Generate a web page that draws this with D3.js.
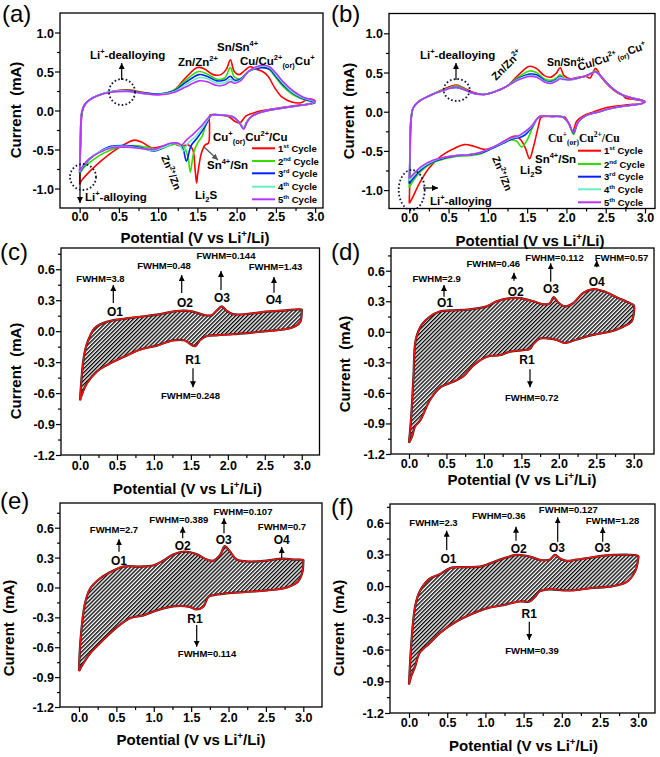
<!DOCTYPE html>
<html><head><meta charset="utf-8">
<script src="https://cdn.jsdelivr.net/npm/d3@7"></script>
<style>body{margin:0;background:#fff} svg text{font-family:"Liberation Sans",Arial,sans-serif;}</style>
</head><body><svg id="c" width="660" height="757"></svg>
<script>
// ---------- DATA ----------
const xTicks = [0.0,0.5,1.0,1.5,2.0,2.5,3.0];
const xMinor = [0.25,0.75,1.25,1.75,2.25,2.75];
const yTicksAB = [-1.0,-0.5,0.0,0.5,1.0];
const yMinorAB = [-0.75,-0.25,0.25,0.75];
const yTicksCF = [-1.2,-0.9,-0.6,-0.3,0.0,0.3,0.6];
const yMinorCF = [-1.05,-0.75,-0.45,-0.15,0.15,0.45,0.75];
const cycleNames = [["1","st"],["2","nd"],["3","rd"],["4","th"],["5","th"]];

// Panel (a): five CV cycles [potential V, current mA]
const a_cycle1 = [[0.0,-0.95],[0.01,-0.55],[0.02,-0.15],[0.05,0.04],[0.12,0.13],[0.25,0.2],[0.4,0.24],[0.6,0.265],[0.8,0.235],[1.0,0.21],[1.2,0.26],[1.35,0.42],[1.5,0.55],[1.58,0.54],[1.7,0.46],[1.8,0.46],[1.87,0.53],[1.92,0.65],[1.97,0.5],[2.03,0.46],[2.1,0.51],[2.17,0.56],[2.25,0.53],[2.33,0.5],[2.4,0.44],[2.48,0.3],[2.58,0.17],[2.7,0.11],[2.82,0.1],[2.92,0.15],[3.0,0.12],
[2.92,0.08],[2.8,0.07],[2.6,0.04],[2.4,0.01],[2.25,-0.02],[2.12,-0.07],[2.04,-0.16],[1.98,-0.14],[1.9,-0.08],[1.78,-0.06],[1.66,-0.06],[1.655,-0.2],[1.64,-0.42],[1.6,-0.44],[1.55,-0.55],[1.5,-0.85],[1.49,-0.93],[1.47,-0.75],[1.44,-0.5],[1.38,-0.44],[1.3,-0.46],[1.2,-0.43],[1.05,-0.46],[0.92,-0.48],[0.8,-0.41],[0.7,-0.38],[0.58,-0.43],[0.42,-0.53],[0.27,-0.65],[0.12,-0.79],[0.03,-0.89],[0.0,-0.95]];
const a_cycle2 = [[0.0,-0.82],[0.01,-0.45],[0.025,-0.05],[0.06,0.07],[0.13,0.14],[0.25,0.2],[0.4,0.24],[0.6,0.26],[0.8,0.23],[1.0,0.21],[1.2,0.26],[1.35,0.39],[1.52,0.5],[1.62,0.47],[1.75,0.4],[1.85,0.42],[1.92,0.55],[1.97,0.43],[2.05,0.41],[2.15,0.5],[2.25,0.54],[2.33,0.56],[2.42,0.52],[2.5,0.42],[2.6,0.3],[2.72,0.2],[2.85,0.14],[3.0,0.1],
[2.9,0.08],[2.7,0.05],[2.5,0.02],[2.32,-0.02],[2.2,-0.07],[2.13,-0.14],[2.09,-0.22],[2.03,-0.15],[1.95,-0.08],[1.8,-0.06],[1.68,-0.06],[1.62,-0.15],[1.56,-0.33],[1.5,-0.42],[1.45,-0.55],[1.41,-0.79],[1.38,-0.6],[1.33,-0.47],[1.25,-0.43],[1.15,-0.45],[1.0,-0.5],[0.85,-0.47],[0.7,-0.45],[0.5,-0.47],[0.3,-0.55],[0.15,-0.65],[0.04,-0.75],[0.0,-0.82]];
const a_cycle3 = [[0.0,-0.8],[0.01,-0.43],[0.025,-0.04],[0.06,0.07],[0.13,0.14],[0.25,0.2],[0.4,0.24],[0.6,0.255],[0.8,0.225],[1.0,0.21],[1.2,0.25],[1.35,0.36],[1.52,0.46],[1.62,0.44],[1.75,0.38],[1.85,0.39],[1.92,0.44],[1.97,0.39],[2.05,0.4],[2.15,0.5],[2.25,0.54],[2.33,0.55],[2.42,0.53],[2.5,0.44],[2.6,0.32],[2.72,0.22],[2.85,0.15],[3.0,0.1],
[2.9,0.08],[2.7,0.05],[2.5,0.02],[2.32,-0.02],[2.2,-0.07],[2.13,-0.15],[2.09,-0.23],[2.03,-0.15],[1.95,-0.08],[1.8,-0.06],[1.68,-0.06],[1.6,-0.2],[1.5,-0.35],[1.42,-0.45],[1.36,-0.65],[1.32,-0.5],[1.27,-0.43],[1.2,-0.42],[1.1,-0.46],[0.95,-0.52],[0.8,-0.48],[0.6,-0.45],[0.4,-0.46],[0.25,-0.53],[0.12,-0.63],[0.04,-0.73],[0.0,-0.8]];
const a_cycle4 = [[0.0,-0.79],[0.01,-0.42],[0.025,-0.03],[0.06,0.07],[0.13,0.14],[0.25,0.2],[0.4,0.24],[0.6,0.25],[0.8,0.22],[1.0,0.205],[1.2,0.24],[1.35,0.33],[1.52,0.42],[1.62,0.41],[1.75,0.35],[1.85,0.36],[1.92,0.4],[1.97,0.37],[2.05,0.39],[2.15,0.5],[2.25,0.55],[2.33,0.57],[2.42,0.55],[2.5,0.46],[2.6,0.34],[2.72,0.23],[2.85,0.16],[3.0,0.11],
[2.9,0.08],[2.7,0.05],[2.5,0.02],[2.32,-0.02],[2.2,-0.07],[2.13,-0.15],[2.09,-0.23],[2.03,-0.15],[1.95,-0.08],[1.8,-0.06],[1.68,-0.06],[1.58,-0.2],[1.48,-0.33],[1.38,-0.42],[1.32,-0.52],[1.28,-0.45],[1.2,-0.42],[1.1,-0.46],[0.95,-0.51],[0.8,-0.49],[0.6,-0.46],[0.4,-0.47],[0.25,-0.53],[0.12,-0.62],[0.04,-0.72],[0.0,-0.79]];
const a_cycle5 = [[0.0,-0.78],[0.01,-0.42],[0.025,-0.03],[0.06,0.07],[0.13,0.14],[0.25,0.2],[0.4,0.235],[0.6,0.245],[0.8,0.22],[1.0,0.2],[1.2,0.23],[1.35,0.3],[1.52,0.38],[1.62,0.37],[1.75,0.32],[1.85,0.33],[1.92,0.37],[1.97,0.35],[2.05,0.38],[2.15,0.5],[2.25,0.56],[2.33,0.58],[2.42,0.56],[2.5,0.48],[2.6,0.36],[2.72,0.25],[2.85,0.17],[3.0,0.12],
[2.9,0.08],[2.7,0.05],[2.5,0.02],[2.32,-0.02],[2.2,-0.07],[2.13,-0.15],[2.09,-0.24],[2.03,-0.15],[1.95,-0.08],[1.8,-0.06],[1.68,-0.06],[1.55,-0.2],[1.45,-0.3],[1.36,-0.38],[1.3,-0.44],[1.25,-0.42],[1.15,-0.42],[1.05,-0.46],[0.95,-0.5],[0.8,-0.49],[0.6,-0.47],[0.4,-0.48],[0.25,-0.54],[0.12,-0.62],[0.04,-0.71],[0.0,-0.78]];

// Panel (b)
const b_cycle1 = [[0.0,-1.17],[0.01,-0.7],[0.02,-0.2],[0.05,0.05],[0.12,0.13],[0.25,0.2],[0.4,0.27],[0.52,0.32],[0.6,0.34],[0.7,0.3],[0.8,0.25],[0.95,0.22],[1.1,0.26],[1.25,0.33],[1.4,0.48],[1.53,0.58],[1.62,0.55],[1.72,0.46],[1.8,0.44],[1.87,0.49],[1.92,0.56],[1.97,0.46],[2.05,0.42],[2.15,0.44],[2.25,0.45],[2.3,0.43],[2.37,0.55],[2.45,0.43],[2.55,0.32],[2.65,0.24],[2.73,0.2],[2.76,0.17],[2.85,0.16],[2.95,0.14],[3.0,0.13],
[2.95,0.1],[2.85,0.095],[2.7,0.08],[2.5,0.05],[2.35,0.0],[2.22,-0.05],[2.13,-0.12],[2.08,-0.25],[2.03,-0.15],[1.98,-0.07],[1.9,-0.06],[1.75,-0.06],[1.68,-0.07],[1.64,-0.2],[1.58,-0.45],[1.53,-0.6],[1.48,-0.47],[1.42,-0.36],[1.35,-0.31],[1.25,-0.35],[1.1,-0.44],[0.95,-0.48],[0.82,-0.44],[0.7,-0.42],[0.55,-0.48],[0.4,-0.57],[0.25,-0.72],[0.12,-0.93],[0.04,-1.1],[0.0,-1.17]];
const b_cycle2 = [[0.0,-0.97],[0.01,-0.6],[0.02,-0.15],[0.05,0.05],[0.12,0.13],[0.25,0.2],[0.4,0.27],[0.52,0.31],[0.6,0.33],[0.7,0.29],[0.8,0.24],[0.95,0.22],[1.1,0.26],[1.25,0.33],[1.4,0.45],[1.53,0.52],[1.62,0.5],[1.72,0.42],[1.8,0.4],[1.87,0.43],[1.92,0.47],[1.97,0.43],[2.05,0.41],[2.15,0.43],[2.25,0.46],[2.32,0.49],[2.37,0.52],[2.45,0.44],[2.55,0.33],[2.65,0.25],[2.75,0.2],[2.85,0.17],[2.95,0.15],[3.0,0.13],
[2.95,0.1],[2.8,0.08],[2.6,0.05],[2.42,0.0],[2.25,-0.05],[2.15,-0.13],[2.09,-0.29],[2.03,-0.15],[1.96,-0.07],[1.8,-0.06],[1.66,-0.06],[1.58,-0.18],[1.5,-0.36],[1.43,-0.45],[1.37,-0.38],[1.3,-0.36],[1.2,-0.4],[1.05,-0.47],[0.9,-0.54],[0.75,-0.56],[0.6,-0.57],[0.45,-0.6],[0.3,-0.65],[0.15,-0.76],[0.05,-0.88],[0.0,-0.97]];
const b_cycle3 = [[0.0,-0.92],[0.01,-0.55],[0.02,-0.12],[0.05,0.05],[0.12,0.13],[0.25,0.2],[0.4,0.26],[0.52,0.3],[0.6,0.31],[0.7,0.28],[0.8,0.24],[0.95,0.22],[1.1,0.26],[1.25,0.33],[1.4,0.43],[1.53,0.48],[1.62,0.47],[1.72,0.4],[1.8,0.38],[1.87,0.41],[1.92,0.45],[1.97,0.42],[2.05,0.41],[2.15,0.43],[2.25,0.46],[2.32,0.49],[2.37,0.51],[2.45,0.44],[2.55,0.33],[2.65,0.25],[2.75,0.2],[2.85,0.17],[2.95,0.15],[3.0,0.13],
[2.95,0.1],[2.8,0.08],[2.6,0.05],[2.42,0.0],[2.25,-0.05],[2.15,-0.13],[2.09,-0.27],[2.03,-0.15],[1.96,-0.07],[1.8,-0.06],[1.66,-0.06],[1.56,-0.2],[1.47,-0.3],[1.4,-0.33],[1.3,-0.35],[1.2,-0.4],[1.05,-0.47],[0.9,-0.53],[0.75,-0.55],[0.6,-0.56],[0.45,-0.59],[0.3,-0.64],[0.15,-0.74],[0.05,-0.85],[0.0,-0.92]];
const b_cycle4 = [[0.0,-0.88],[0.01,-0.52],[0.02,-0.1],[0.05,0.05],[0.12,0.13],[0.25,0.2],[0.4,0.26],[0.52,0.3],[0.6,0.31],[0.7,0.28],[0.8,0.24],[0.95,0.22],[1.1,0.26],[1.25,0.33],[1.4,0.42],[1.53,0.46],[1.62,0.45],[1.72,0.39],[1.8,0.37],[1.87,0.4],[1.92,0.44],[1.97,0.42],[2.05,0.41],[2.15,0.43],[2.25,0.46],[2.32,0.49],[2.37,0.51],[2.45,0.44],[2.55,0.33],[2.65,0.25],[2.75,0.2],[2.85,0.17],[2.95,0.15],[3.0,0.13],
[2.95,0.1],[2.8,0.08],[2.6,0.05],[2.42,0.0],[2.25,-0.05],[2.15,-0.13],[2.09,-0.26],[2.03,-0.15],[1.96,-0.07],[1.8,-0.06],[1.66,-0.06],[1.55,-0.2],[1.45,-0.28],[1.38,-0.32],[1.3,-0.34],[1.2,-0.39],[1.05,-0.46],[0.9,-0.52],[0.75,-0.55],[0.6,-0.56],[0.45,-0.58],[0.3,-0.63],[0.15,-0.72],[0.05,-0.82],[0.0,-0.88]];
const b_cycle5 = [[0.0,-0.85],[0.01,-0.5],[0.02,-0.1],[0.05,0.05],[0.12,0.13],[0.25,0.2],[0.4,0.26],[0.52,0.3],[0.6,0.31],[0.7,0.28],[0.8,0.24],[0.95,0.22],[1.1,0.26],[1.25,0.33],[1.4,0.41],[1.53,0.45],[1.62,0.44],[1.72,0.38],[1.8,0.36],[1.87,0.39],[1.92,0.42],[1.97,0.41],[2.05,0.41],[2.15,0.43],[2.25,0.46],[2.32,0.49],[2.37,0.51],[2.45,0.44],[2.55,0.33],[2.65,0.25],[2.75,0.2],[2.85,0.17],[2.95,0.15],[3.0,0.13],
[2.95,0.1],[2.8,0.08],[2.6,0.05],[2.42,0.0],[2.25,-0.05],[2.15,-0.13],[2.09,-0.26],[2.03,-0.15],[1.96,-0.07],[1.8,-0.06],[1.66,-0.06],[1.55,-0.19],[1.45,-0.27],[1.38,-0.31],[1.3,-0.33],[1.2,-0.38],[1.05,-0.46],[0.9,-0.52],[0.75,-0.55],[0.6,-0.56],[0.45,-0.58],[0.3,-0.62],[0.15,-0.7],[0.05,-0.8],[0.0,-0.85]];

// Panels (c)-(f): single loops
const c_loop = [[0.0,-0.67],[0.04,-0.31],[0.07,-0.18],[0.11,-0.09],[0.2,0.03],[0.36,0.09],[0.59,0.12],[0.81,0.14],[1.04,0.16],[1.26,0.19],[1.4,0.2],[1.53,0.19],[1.69,0.155],[1.78,0.155],[1.85,0.2],[1.92,0.24],[1.98,0.2],[2.07,0.165],[2.3,0.17],[2.53,0.19],[2.75,0.2],[3.0,0.21],
[3.0,0.2],[2.98,0.09],[2.89,0.04],[2.75,0.016],[2.53,0.0],[2.3,-0.016],[2.07,-0.03],[1.85,-0.04],[1.71,-0.05],[1.62,-0.09],[1.56,-0.145],[1.49,-0.125],[1.42,-0.09],[1.26,-0.09],[1.04,-0.14],[0.81,-0.18],[0.59,-0.25],[0.36,-0.33],[0.23,-0.39],[0.09,-0.51],[0.0,-0.67]];
const d_loop = [[0.0,-1.09],[0.03,-0.83],[0.06,-0.44],[0.09,-0.08],[0.17,0.07],[0.28,0.15],[0.41,0.2],[0.55,0.21],[0.81,0.22],[1.04,0.25],[1.17,0.3],[1.35,0.33],[1.48,0.33],[1.66,0.3],[1.79,0.27],[1.88,0.28],[1.93,0.34],[1.99,0.29],[2.08,0.25],[2.19,0.28],[2.32,0.38],[2.46,0.42],[2.59,0.4],[2.77,0.34],[2.95,0.28],[3.0,0.26],
[3.0,0.18],[2.97,0.1],[2.86,0.05],[2.68,0.0],[2.46,-0.03],[2.24,-0.075],[2.08,-0.11],[1.97,-0.08],[1.84,-0.065],[1.75,-0.065],[1.66,-0.12],[1.61,-0.17],[1.52,-0.18],[1.35,-0.195],[1.21,-0.23],[1.04,-0.245],[0.86,-0.33],[0.72,-0.44],[0.59,-0.49],[0.41,-0.55],[0.28,-0.67],[0.15,-0.87],[0.08,-0.93],[0.04,-1.03],[0.0,-1.09]];
const e_loop = [[0.0,-0.84],[0.02,-0.53],[0.08,-0.16],[0.15,-0.01],[0.28,0.09],[0.46,0.17],[0.59,0.21],[0.82,0.21],[0.99,0.22],[1.13,0.27],[1.26,0.33],[1.42,0.36],[1.57,0.335],[1.71,0.28],[1.8,0.27],[1.89,0.33],[1.95,0.415],[2.02,0.36],[2.11,0.28],[2.29,0.26],[2.51,0.27],[2.73,0.29],[2.87,0.28],[3.0,0.275],
[3.0,0.26],[2.99,0.16],[2.93,0.06],[2.78,0.0],[2.51,-0.03],[2.24,-0.045],[1.97,-0.06],[1.8,-0.077],[1.73,-0.095],[1.66,-0.195],[1.57,-0.22],[1.48,-0.195],[1.26,-0.19],[1.04,-0.23],[0.86,-0.28],[0.68,-0.31],[0.46,-0.43],[0.28,-0.56],[0.15,-0.66],[0.06,-0.76],[0.0,-0.84]];
const f_loop = [[0.0,-0.93],[0.03,-0.54],[0.08,-0.19],[0.14,-0.05],[0.27,0.07],[0.41,0.115],[0.54,0.17],[0.71,0.18],[0.93,0.185],[1.06,0.215],[1.23,0.26],[1.41,0.295],[1.58,0.28],[1.71,0.25],[1.84,0.25],[1.91,0.295],[1.98,0.26],[2.06,0.24],[2.19,0.25],[2.46,0.28],[2.67,0.295],[3.0,0.285],
[3.0,0.26],[2.96,0.14],[2.85,0.04],[2.67,0.0],[2.37,-0.02],[2.15,-0.04],[2.02,-0.04],[1.84,-0.03],[1.71,-0.05],[1.65,-0.1],[1.58,-0.145],[1.45,-0.145],[1.23,-0.18],[1.02,-0.21],[0.8,-0.27],[0.62,-0.335],[0.41,-0.44],[0.27,-0.54],[0.14,-0.63],[0.08,-0.76],[0.03,-0.85],[0.0,-0.93]];

// ---------- LAYOUT / STYLE ----------
const cycleColors = ["#ff0000","#33dd00","#0022ff","#66f0c0","#bb33ff"];
const svg = d3.select("#c");
const defs = svg.append("defs");
const hp = defs.append("pattern").attr("id","hatch").attr("patternUnits","userSpaceOnUse")
  .attr("width",2.8).attr("height",2.8).attr("patternTransform","rotate(45)");
hp.append("rect").attr("width",2.8).attr("height",2.8).attr("fill","#fff");
hp.append("line").attr("x1",0.7).attr("y1",0).attr("x2",0.7).attr("y2",2.8).attr("stroke","#000").attr("stroke-width",1.35);
defs.append("marker").attr("id","arr").attr("markerUnits","userSpaceOnUse").attr("markerWidth",7).attr("markerHeight",7)
  .attr("refX",6).attr("refY",3).attr("orient","auto").append("path").attr("d","M0,0L6,3L0,6z").attr("fill","#000");
defs.append("marker").attr("id","arrg").attr("markerUnits","userSpaceOnUse").attr("markerWidth",7).attr("markerHeight",7)
  .attr("refX",6).attr("refY",3).attr("orient","auto").append("path").attr("d","M0,0L6,3L0,6z").attr("fill","#555");

function rich(g, x, y, parts, opt={}) {
  const fs = opt.size || 11;
  const t = g.append("text").attr("x",x).attr("y",y).attr("font-size",fs)
    .attr("font-weight", opt.weight||"bold").attr("text-anchor", opt.anchor||"start").attr("fill", opt.fill||"#000");
  if (opt.rotate) t.attr("transform",`rotate(${opt.rotate},${x},${y})`);
  if (opt.family) t.style("font-family", opt.family);
  let cur = 0;
  parts.forEach(p => {
    const [s,k] = Array.isArray(p) ? p : [p,""];
    const target = k==="sup" ? -fs*0.4 : k==="sub" ? fs*0.25 : 0;
    const ts = t.append("tspan").attr("dy", target-cur).text(s);
    if (k) ts.attr("font-size", fs*0.65);
    cur = target;
  });
  return t;
}

const panels = {
  a:{L:60,R:323,T:13,B:208,xd:[-0.25,3.1],yd:[-1.25,1.25],yt:yTicksAB,ym:yMinorAB,lab:[2,22],xt:[195,243],ytt:[21,110],tl:18},
  b:{L:389,R:655,T:13.5,B:208.5,xd:[-0.258,3.127],yd:[-1.235,1.253],yt:yTicksAB,ym:yMinorAB,lab:[331,22],xt:[530,246],ytt:[354,111],tl:18},
  c:{L:61,R:319.5,T:248,B:455,xd:[-0.257,3.24],yd:[-1.2,0.806],yt:yTicksCF,ym:yMinorCF,lab:[0,260],xt:[187.5,494],ytt:[21,371],tl:20},
  d:{L:391,R:654,T:248,B:454,xd:[-0.24,3.27],yd:[-1.2,0.823],yt:yTicksCF,ym:yMinorCF,lab:[331,260],xt:[522,485],ytt:[350,364],tl:19},
  e:{L:60,R:322,T:503,B:707,xd:[-0.254,3.25],yd:[-1.2,0.848],yt:yTicksCF,ym:yMinorCF,lab:[0,509],xt:[191,745],ytt:[14,628],tl:20},
  f:{L:390,R:655,T:504,B:713,xd:[-0.249,3.22],yd:[-1.2,0.777],yt:yTicksCF,ym:yMinorCF,lab:[331,515],xt:[523.5,751],ytt:[344,628],tl:19}
};

const fmt = d => d.toFixed(1);
const S = {};
Object.entries(panels).forEach(([k,p]) => {
  const x = d3.scaleLinear().domain(p.xd).range([p.L,p.R]);
  const y = d3.scaleLinear().domain(p.yd).range([p.B,p.T]);
  S[k] = {x,y,p};
  const g = svg.append("g");
  defs.append("clipPath").attr("id","clip"+k).append("rect").attr("x",p.L).attr("y",p.T).attr("width",p.R-p.L).attr("height",p.B-p.T);
  const ax = g.append("g").attr("transform",`translate(0,${p.B})`)
    .call(d3.axisBottom(x).tickValues(xTicks).tickFormat(fmt).tickSize(5).tickSizeOuter(0));
  ax.selectAll("text").attr("y", p.tl-5).attr("dy",0);
  g.append("g").attr("transform",`translate(0,${p.B})`).call(d3.axisBottom(x).tickValues(xMinor).tickFormat("").tickSize(3).tickSizeOuter(0));
  const ay = g.append("g").attr("transform",`translate(${p.L},0)`)
    .call(d3.axisLeft(y).tickValues(p.yt).tickFormat(fmt).tickSize(5).tickSizeOuter(0));
  ay.selectAll("text").attr("x",-6).attr("dy","0.36em");
  g.append("g").attr("transform",`translate(${p.L},0)`).call(d3.axisLeft(y).tickValues(p.ym).tickFormat("").tickSize(3).tickSizeOuter(0));
  g.selectAll(".domain").remove();
  g.selectAll(".tick line").attr("stroke","#000").attr("stroke-width",1.2);
  g.selectAll(".tick text").attr("font-size",12.5).attr("font-weight","bold").attr("fill","#000")
    .style("font-family",'"Liberation Sans",Arial,sans-serif');
  g.append("rect").attr("x",p.L).attr("y",p.T).attr("width",p.R-p.L).attr("height",p.B-p.T)
    .attr("fill","none").attr("stroke","#000").attr("stroke-width",1.3);
  rich(g, p.xt[0], p.xt[1], ["Potential (V vs Li",["+","sup"],"/Li)"], {size:15, anchor:"middle"});
  g.append("text").attr("transform",`translate(${p.ytt[0]},${p.ytt[1]}) rotate(-90)`).attr("text-anchor","middle")
    .attr("font-size",15).attr("font-weight","bold").text("Current\u00a0\u00a0(mA)");
  g.append("text").attr("x",p.lab[0]).attr("y",p.lab[1]).attr("font-size",24).text(`(${k})`);
});

const line = (s) => d3.line().x(d=>s.x(d[0])).y(d=>s.y(d[1])).curve(d3.curveCatmullRom.alpha(0.5));

function drawCycles(k, cycles, legX, legY) {
  const s = S[k];
  const g = svg.append("g").attr("clip-path",`url(#clip${k})`);
  cycles.forEach((c,i) => g.append("path").attr("d", line(s)(c)).attr("fill","none")
    .attr("stroke",cycleColors[i]).attr("stroke-width",1.6));
  const lg = svg.append("g");
  cycleNames.forEach((n,i) => {
    lg.append("line").attr("x1",legX).attr("x2",legX+23).attr("y1",legY[i]).attr("y2",legY[i])
      .attr("stroke",cycleColors[i]).attr("stroke-width",2);
    rich(lg, legX+26, legY[i]+3.5, [n[0],[n[1],"sup"]," Cycle"], {size:9.5});
  });
}
drawCycles("a",[a_cycle1,a_cycle2,a_cycle3,a_cycle4,a_cycle5],252,[148.3,161,173.3,186.7,199.3]);
drawCycles("b",[b_cycle1,b_cycle2,b_cycle3,b_cycle4,b_cycle5],578,[150.7,164,176.7,189.3,202.3]);

[["c",c_loop],["d",d_loop],["e",e_loop],["f",f_loop]].forEach(([k,data]) => {
  const s = S[k];
  const g = svg.append("g").attr("clip-path",`url(#clip${k})`);
  g.append("path").attr("d", line(s)(data)).attr("fill","url(#hatch)").attr("stroke","#222").attr("stroke-width",2.2);
  g.append("path").attr("d", line(s)(data)).attr("fill","none").attr("stroke","#ff1010").attr("stroke-width",1.4);
});

// ---- annotations
const an = svg.append("g");
function arrow(x1,y1,x2,y2,gray){ an.append("line").attr("x1",x1).attr("y1",y1).attr("x2",x2).attr("y2",y2)
  .attr("stroke",gray?"#555":"#000").attr("stroke-width",1.2).attr("marker-end",gray?"url(#arrg)":"url(#arr)"); }
function ell(cx,cy,rx,ry){ an.append("ellipse").attr("cx",cx).attr("cy",cy).attr("rx",rx).attr("ry",ry)
  .attr("fill","none").attr("stroke","#111133").attr("stroke-width",1.8).attr("stroke-dasharray","1.6,2.2"); }

// (a)
rich(an,90,59,["Li",["+","sup"],"-dealloying"],{size:11.5});
arrow(121.7,80,121.7,63); ell(122,92,13,13);
rich(an,178,66,["Zn/Zn",["2+","sup"]],{size:11.5});
rich(an,217,51,["Sn/Sn",["4+","sup"]],{size:11.5});
rich(an,240,65,["Cu/Cu",["2+","sup"],["(or)","sub"],"Cu",["+","sup"]],{size:11.5});
rich(an,213,141,["Cu",["+","sup"],["(or)","sub"],"Cu",["2+","sup"],"/Cu"],{size:11.5});
rich(an,207,169,["Sn",["4+","sup"],"/Sn"],{size:11.5});
arrow(204,147,218,160,true);
rich(an,161,157,["Zn",["2+","sup"],"/Zn"],{size:10.5,rotate:68});
rich(an,195,199,["Li",["2","sub"],"S"],{size:11.5});
rich(an,85,201,["Li",["+","sup"],"-alloying"],{size:11.5});
arrow(80,173,80,203); ell(83,177,13,13);

// (b)
rich(an,420,59,["Li",["+","sup"],"-dealloying"],{size:11.5});
arrow(456,80,456,63); ell(456.7,90,13,11);
rich(an,496,81,["Zn/Zn",["2+","sup"]],{size:11,rotate:-45});
rich(an,547,66,["Sn/Sn",["4+","sup"]],{size:10.5});
rich(an,579,71,["Cu/Cu",["2+","sup"],["(or)","sub"],"Cu",["+","sup"]],{size:11,rotate:-18});
rich(an,548,142,["Cu",["+","sup"],["(or)","sub"],"Cu",["2+","sup"],"/Cu"],{size:11.5,family:'"Liberation Serif","Times New Roman",serif'});
rich(an,535,163,["Sn",["4+","sup"],"/Sn"],{size:11.5});
rich(an,520,174,["Li",["2","sub"],"S"],{size:11.5});
rich(an,492,158,["Zn",["2+","sup"],"/Zn"],{size:10.5,rotate:68});
rich(an,430,205,["Li",["+","sup"],"-alloying"],{size:11.5});
arrow(423,188,438,188); ell(411.7,190,13,20);

function lab(x,y,t,size){ an.append("text").attr("x",x).attr("y",y).attr("text-anchor","middle")
  .attr("font-size",size).attr("font-weight","bold").text(t); }
const F = 9.5, O = 12;
// c
lab(100.5,282,"FWHM=3.8",F); arrow(113.3,303,113.3,285); lab(115,316,"O1",O);
lab(164,269.3,"FWHM=0.48",F); arrow(181.7,293,181.7,275); lab(185,307.3,"O2",O);
lab(226,259.3,"FWHM=0.144",F); arrow(221,290,221,271); lab(222,302.3,"O3",O);
lab(275.5,270,"FWHM=1.43",F); arrow(274,292.7,274,277); lab(273.7,304,"O4",O);
lab(193,364,"R1",O); arrow(193,368.3,193,387.3); lab(190.5,399,"FWHM=0.248",F);
// d
lab(436.7,281.7,"FWHM=2.9",F); arrow(444,296.7,444,285); lab(445,307.3,"O1",O);
lab(493.3,267.3,"FWHM=0.46",F); arrow(514,280.7,514,272.7); lab(515.7,295.7,"O2",O);
lab(554.5,260.7,"FWHM=0.112",F); arrow(550.7,281.7,550.7,263.3); lab(551,293.3,"O3",O);
lab(621.5,260.7,"FWHM=0.57",F); arrow(596.7,267.3,596.7,260.5); lab(596.7,286,"O4",O);
lab(527,364,"R1",O); arrow(530,369.3,530,387.3); lab(531.7,400.7,"FWHM=0.72",F);
// e
lab(114,533.3,"FWHM=2.7",F); arrow(119,551.7,119,539.3); lab(119,565,"O1",O);
lab(178.8,523.3,"FWHM=0.389",F); arrow(182.7,538.3,182.7,526.7); lab(182.8,550,"O2",O);
lab(243,515,"FWHM=0.107",F); arrow(224,533.3,224,518.3); lab(223.8,544,"O3",O);
lab(282,530,"FWHM=0.7",F); lab(281.7,544,"O4",O); arrow(281.7,558.3,281.7,547);
lab(195,622.7,"R1",O); arrow(196.7,625,196.7,646.7); lab(207,656.7,"FWHM=0.114",F);
// f
lab(433.5,525.7,"FWHM=2.3",F); arrow(446.7,550,446.7,530.7); lab(448.5,563.3,"O1",O);
lab(498.7,519.3,"FWHM=0.36",F); arrow(516,540.7,516,526.7); lab(518.7,552.7,"O2",O);
lab(568.3,512.7,"FWHM=0.127",F); arrow(557.7,541.7,557.7,517.3); lab(557,551.7,"O3",O);
lab(612.5,524.3,"FWHM=1.28",F); arrow(602.7,541.7,602.7,527.3); lab(602.5,551.7,"O3",O);
lab(529.2,618.3,"R1",O); arrow(529.3,621.7,529.3,640); lab(532,654,"FWHM=0.39",F);
</script></body></html>
